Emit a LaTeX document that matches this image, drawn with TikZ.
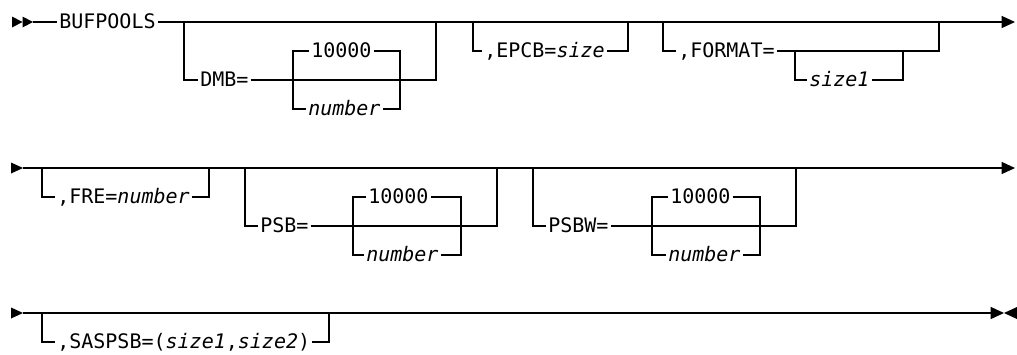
\documentclass[tikz,border=0pt]{standalone}
\usepackage{fontspec}
\setmainfont{DejaVu Sans Mono}
\usetikzlibrary{arrows.meta}

\begin{document}
\begin{tikzpicture}[x=0.75pt, y=-0.75pt,
        word/.style={anchor=west, inner xsep=1.5pt, inner ysep=0pt, text height=10pt, text depth=0pt, font=\fontsize{15pt}{18pt}\selectfont},
        rail/.style={line width=0.95pt},
        arrow/.style={rail, -{Triangle[length=10pt, width=9pt]}}
    ]
        \useasboundingbox (0,0) rectangle (1017,354);

        % row 1
        \node[word] (bufpools) at (57,22) {BUFPOOLS};
        \node[word] (dmb) at (198,80) {DMB=};
        \node[word] (dmbdef) at (309,51) {10000};
        \node[word] (dmbnum) at (306,109) {\textit{number}};
        \node[word] (epcb) at (482,51) {,EPCB=\textit{size}};
        \node[word] (format) at (676,51) {,FORMAT=};
        \node[word] (fmtsize) at (807,80) {\textit{size1}};

        \coordinate (s1) at (33,22);
        \coordinate (e1) at (1015,22);
        \coordinate (dmbin) at (184,22);
        \coordinate (dmbout) at (436,22);
        \coordinate (dmbl) at (293,80);
        \coordinate (dmbr) at (400,80);
        \coordinate (epcbin) at (473,22);
        \coordinate (epcbout) at (628,22);
        \coordinate (fmtin) at (663,22);
        \coordinate (fmtout) at (939,22);
        \coordinate (fmtl) at (795,51);
        \coordinate (fmtr) at (903,51);

        \fill (12,16.5) -- (22.5,22) -- (12,27.5) -- cycle;
        \fill (22.5,16.5) -- (33,22) -- (22.5,27.5) -- cycle;
        \draw[rail] (s1) -- (bufpools.west);
        \draw[arrow] (bufpools.east) -- (e1);

        \draw[rail] (dmbin) |- (dmb.west);
        \draw[rail] (dmb.east) -| (dmbout);
        \draw[rail] (dmbdef.west) -| (dmbl) |- (dmbnum.west);
        \draw[rail] (dmbdef.east) -| (dmbr) |- (dmbnum.east);

        \draw[rail] (epcbin) |- (epcb.west);
        \draw[rail] (epcb.east) -| (epcbout);

        \draw[rail] (fmtin) |- (format.west);
        \draw[rail] (format.east) -| (fmtout);
        \draw[rail] (fmtl) |- (fmtsize.west);
        \draw[rail] (fmtsize.east) -| (fmtr);

        % row 2
        \node[word] (fre) at (55,197) {,FRE=\textit{number}};
        \node[word] (psb) at (258,226) {PSB=};
        \node[word] (psbdef) at (366,197) {10000};
        \node[word] (psbnum) at (364,255) {\textit{number}};
        \node[word] (psbw) at (546,226) {PSBW=};
        \node[word] (psbwdef) at (668,197) {10000};
        \node[word] (psbwnum) at (666,255) {\textit{number}};

        \coordinate (s2) at (23,168);
        \coordinate (e2) at (1015,168);
        \coordinate (frein) at (42,168);
        \coordinate (freout) at (209,168);
        \coordinate (psbin) at (245,168);
        \coordinate (psbout) at (497,168);
        \coordinate (psbl) at (353,226);
        \coordinate (psbr) at (461,226);
        \coordinate (psbwin) at (533,168);
        \coordinate (psbwout) at (796,168);
        \coordinate (psbwl) at (652,226);
        \coordinate (psbwr) at (760,226);

        \fill (11,162.5) -- (23,168) -- (11,173.5) -- cycle;
        \draw[arrow] (s2) -- (e2);

        \draw[rail] (frein) |- (fre.west);
        \draw[rail] (fre.east) -| (freout);

        \draw[rail] (psbin) |- (psb.west);
        \draw[rail] (psb.east) -| (psbout);
        \draw[rail] (psbdef.west) -| (psbl) |- (psbnum.west);
        \draw[rail] (psbdef.east) -| (psbr) |- (psbnum.east);

        \draw[rail] (psbwin) |- (psbw.west);
        \draw[rail] (psbw.east) -| (psbwout);
        \draw[rail] (psbwdef.west) -| (psbwl) |- (psbwnum.west);
        \draw[rail] (psbwdef.east) -| (psbwr) |- (psbwnum.east);

        % row 3
        \node[word] (saspsb) at (55,342) {,SASPSB=(\textit{size1},\textit{size2})};

        \coordinate (s3) at (23,313);
        \coordinate (e3) at (1004,313);
        \coordinate (sasin) at (42,313);
        \coordinate (sasout) at (329,313);

        \fill (11,307.5) -- (23,313) -- (11,318.5) -- cycle;
        \draw[arrow] (s3) -- (e3);
        \fill (1017,307) -- (1004,313) -- (1017,319) -- cycle;

        \draw[rail] (sasin) |- (saspsb.west);
        \draw[rail] (saspsb.east) -| (sasout);
    \end{tikzpicture}
\end{document}
